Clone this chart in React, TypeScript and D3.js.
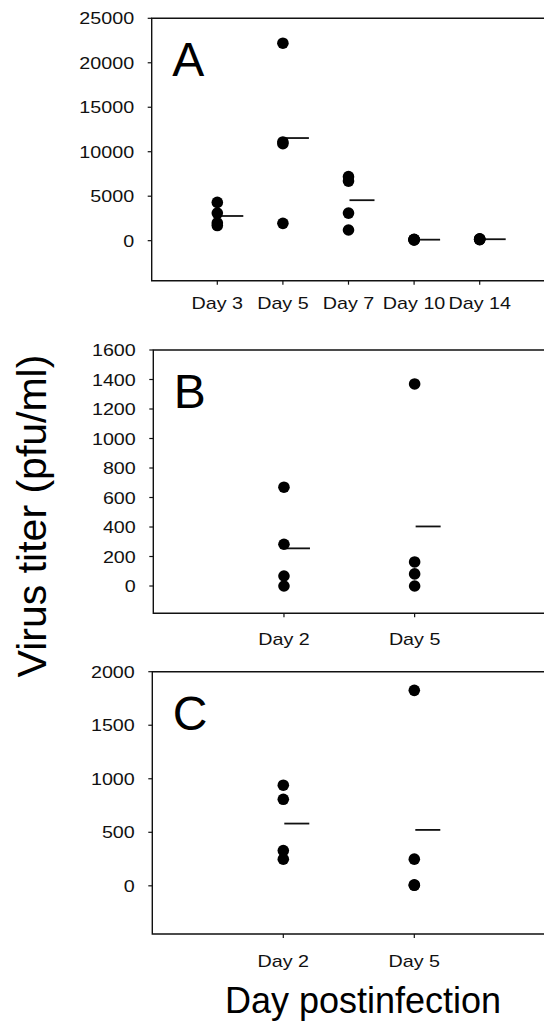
import React from "react";
import * as d3 from "d3";

// categories
const daysA = ["Day 3", "Day 5", "Day 7", "Day 10", "Day 14"];
const daysBC = ["Day 2", "Day 5"];

// virus titer per animal (pfu/ml), one array per day
const titerA = [
  [4300, 3100, 2000, 1700],
  [22200, 11100, 10900, 1950],
  [7200, 6700, 3100, 1200],
  [150, 120, 100, 80],
  [200, 180, 150, 120],
];
const titerB = [
  [670, 283, 68, 0],
  [1370, 163, 82, 0],
];
const titerC = [
  [940, 808, 329, 249],
  [1826, 249, 9, 5],
];

// y tick labels
const ticksA = [0, 5000, 10000, 15000, 20000, 25000];
const ticksB = [0, 200, 400, 600, 800, 1000, 1200, 1400, 1600];
const ticksC = [0, 500, 1000, 1500, 2000];

const W = 544;
const H = 1029;
const font = "'Liberation Sans', Arial, Helvetica, sans-serif";

type PanelProps = {
  letter: string;
  days: string[];
  values: number[][];
  ticks: number[];
  left: number;
  top: number;
  bottom: number;
  yMin: number;
  yMax: number;
  labelDy: number;
};

function Panel(p: PanelProps) {
  const right = 545.3;
  const x = d3.scalePoint<string>().domain(p.days).range([p.left, right]).padding(1);
  const y = d3.scaleLinear().domain([p.yMin, p.yMax]).range([p.bottom, p.top]);

  return (
    <g>
      {/* frame */}
      <path
        d={`M${right},${p.top}H${p.left}V${p.bottom}H${right}`}
        fill="none"
        stroke="#111"
        strokeWidth={1.4}
      />
      {/* y ticks + labels */}
      {p.ticks.map((t) => (
        <g key={t}>
          <line x1={p.left - 4} x2={p.left} y1={y(t)} y2={y(t)} stroke="#111" strokeWidth={1.2} />
          <text
            transform={`translate(${p.left - 17.5},${y(t)}) scale(1.16,1)`}
            dy="0.36em"
            textAnchor="end"
            fontFamily={font}
            fontSize={17}
            fill="#111"
          >
            {t}
          </text>
        </g>
      ))}
      {/* x ticks + labels */}
      {p.days.map((d) => (
        <g key={d}>
          <line x1={x(d)} x2={x(d)} y1={p.bottom} y2={p.bottom + 4} stroke="#111" strokeWidth={1.2} />
          <text
            transform={`translate(${x(d)},${p.bottom + p.labelDy}) scale(1.16,1)`}
            textAnchor="middle"
            fontFamily={font}
            fontSize={17}
            fill="#111"
          >
            {d}
          </text>
        </g>
      ))}
      {/* mean lines */}
      {p.days.map((d, i) => {
        const m = d3.mean(p.values[i]) as number;
        return (
          <line
            key={"m" + d}
            x1={(x(d) as number) + 1}
            x2={(x(d) as number) + 26}
            y1={y(m)}
            y2={y(m)}
            stroke="#111"
            strokeWidth={1.8}
          />
        );
      })}
      {/* dots */}
      {p.days.map((d, i) =>
        p.values[i].map((v, j) => (
          <circle key={d + j} cx={x(d)} cy={y(v)} r={5.8} fill="#000" />
        ))
      )}
      {/* panel letter */}
      <text x={p.left + 20.5} y={p.top + 58} fontFamily={font} fontSize={48} fill="#000">
        {p.letter}
      </text>
    </g>
  );
}

export default function App() {
  return (
    <svg
      width={W}
      height={H}
      style={{ position: "absolute", left: 0, top: 0, background: "#fff" }}
    >
      <rect width={W} height={H} fill="#fff" />
      <Panel letter="A" days={daysA} values={titerA} ticks={ticksA}
        left={151.7} top={18.3} bottom={280.7} yMin={-4500} yMax={25000} labelDy={28.5} />
      <Panel letter="B" days={daysBC} values={titerB} ticks={ticksB}
        left={153.3} top={350} bottom={613.3} yMin={-185} yMax={1600} labelDy={32} />
      <Panel letter="C" days={daysBC} values={titerC} ticks={ticksC}
        left={152.3} top={671.7} bottom={934} yMin={-450} yMax={2000} labelDy={32.5} />
      <text
        transform="translate(46,516) rotate(-90)"
        textAnchor="middle"
        fontFamily={font}
        fontSize={41}
        fill="#000"
      >
        Virus titer (pfu/ml)
      </text>
      <text x={363} y={1013} textAnchor="middle" fontFamily={font} fontSize={36} fill="#000">
        Day postinfection
      </text>
    </svg>
  );
}
